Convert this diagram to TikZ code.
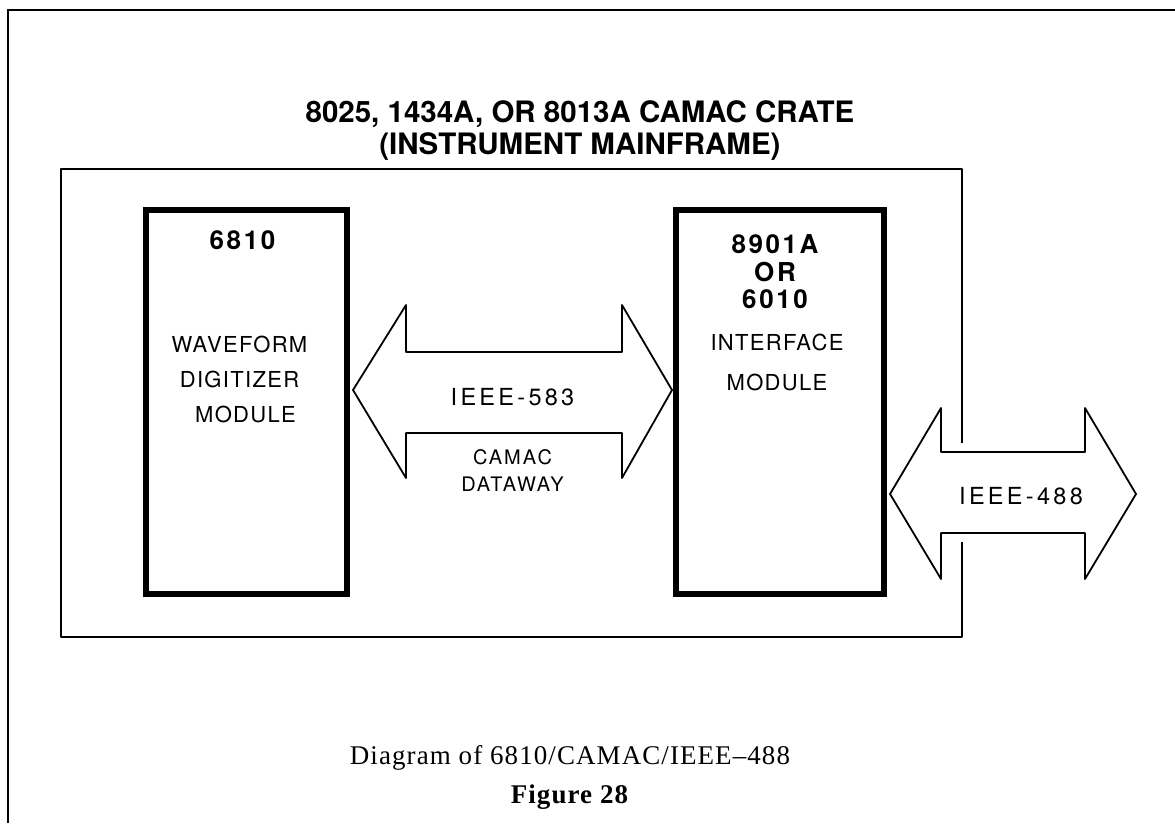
\documentclass[tikz,border=0pt]{standalone}
\usepackage{fontspec}
\setmainfont{Liberation Serif}
\setsansfont{TeX Gyre Heros}
\usetikzlibrary{positioning,calc}

\begin{document}
\begin{tikzpicture}[x=1pt,y=-1pt,
  font=\sffamily,
  module/.style={draw,line width=6pt,minimum width=201pt,minimum height=384pt,inner sep=0pt},
  thinline/.style={line width=1.8pt,line join=round},
  lbl/.style={font=\sffamily\fontsize{22}{35}\selectfont\addfontfeatures{LetterSpace=6},align=center},
  num/.style={font=\sffamily\bfseries\fontsize{26}{27.5}\selectfont\addfontfeatures{LetterSpace=10},align=center},
  cratetitle/.style={font=\sffamily\bfseries\fontsize{29.5}{32}\selectfont,align=center},
  bus/.style={font=\sffamily\fontsize{23.5}{26}\selectfont\addfontfeatures{LetterSpace=14}},
  captxt/.style={font=\rmfamily\fontsize{27}{39}\selectfont\addfontfeatures{LetterSpace=4},align=center}]
\useasboundingbox (0,0) rectangle (1175,823);
% page frame
\draw[line width=2pt] (8,823) -- (8,10) -- (1175,10);
% crate
\node[cratetitle] (crate) at (580,131) {8025, 1434A, OR 8013A CAMAC CRATE\\(INSTRUMENT MAINFRAME)};
\draw[thinline] (962,443) -- (962,169) -- (61,169) -- (61,637) -- (962,637) -- (962,542);
% modules
\node[module] (dig) at (246.5,402) {};
\node[module,minimum width=208pt] (ifc) at (780,402) {};
\node[num] (dignum) at ($(dig.north)+(-4,33)$) {6810};
\node[lbl] (digtxt) at ($(dig.north)+(-7,172)$) {WAVEFORM\\DIGITIZER\\\hspace*{12pt}MODULE};
\node[num] (ifcnum) at ($(ifc.north)+(-5,65)$) {8901A\\OR\\6010};
\node[lbl,font=\sffamily\fontsize{22}{40}\selectfont\addfontfeatures{LetterSpace=6}] (ifctxt) at ($(ifc.north)+(-3,155)$) {INTERFACE\\MODULE};
% IEEE-583 dataway
\coordinate (a1) at ($(dig.east)+(3,-12)$);
\coordinate (a2) at ($(ifc.west)+(-1,-12)$);
\draw[thinline] (a1) -- ++(53,-85) -- ++(0,47) -- ($(a2)+(-50,-38)$) -- ++(0,-47) -- (a2)
  -- ++(-50,88) -- ++(0,-45) -- ($(a1)+(53,43)$) -- ++(0,45) -- cycle;
\node[bus] (dway) at ($(a1)!0.5!(a2)+(0,7)$) {IEEE-583};
\node[font=\sffamily\fontsize{20}{27}\selectfont\addfontfeatures{LetterSpace=10},align=center] (dwaytxt) at ($(dway)+(0,74)$) {CAMAC\\DATAWAY};
% IEEE-488 bus
\coordinate (b1) at ($(ifc.east)+(3,92)$);
\coordinate (b2) at (1136,494);
\draw[thinline] (b1) -- ++(51,-86) -- ++(0,44) -- ($(b2)+(-51,-42)$) -- ++(0,-44) -- (b2)
  -- ++(-51,85) -- ++(0,-46) -- ($(b1)+(51,39)$) -- ++(0,46) -- cycle;
\node[bus] (gpib) at ($(b1)!0.5!(b2)+(8,2)$) {IEEE-488};
% caption
\node[captxt] (caption) at (570,777) {Diagram of 6810/CAMAC/IEEE--488\\\textbf{Figure 28}};
\end{tikzpicture}
\end{document}
